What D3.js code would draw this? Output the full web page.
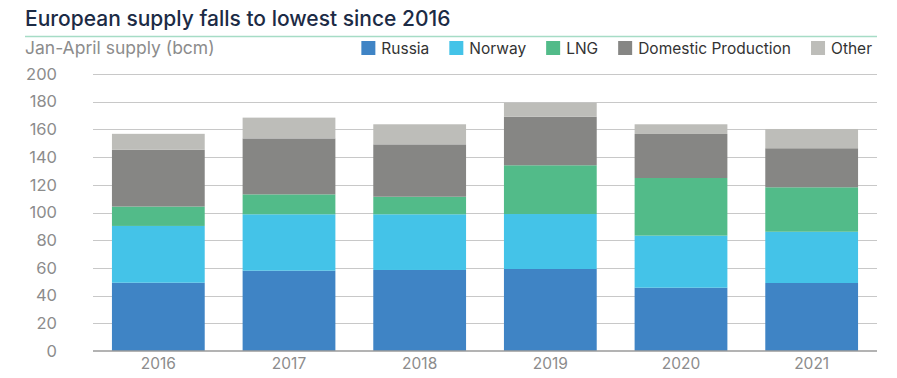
<!DOCTYPE html>
<html>
<head>
<meta charset="utf-8">
<script src="https://d3js.org/d3.v7.min.js"></script>
<style>
body{margin:0;background:#fff;font-family:Inter,'Open Sans',sans-serif}
svg text{font-family:Inter,'Open Sans',sans-serif}
</style>
</head>
<body>
<div id="chart"></div>
<script>
// Jan-April supply, bcm
var years = ["2016", "2017", "2018", "2019", "2020", "2021"];
var series = ["Russia", "Norway", "LNG", "Domestic Production", "Other"];
var russia   = [49.3, 58.0, 58.5, 59.2, 45.7, 49.1];
var norway   = [41.0, 40.7, 40.2, 39.7, 37.6, 37.0];
var lng      = [14.0, 14.4, 12.7, 35.2, 41.6, 32.1];
var domestic = [41.0, 40.4, 37.8, 35.1, 31.8, 28.2];
var other    = [11.5, 15.0, 14.5, 10.1, 7.0, 13.9];
var yTicks = [0, 20, 40, 60, 80, 100, 120, 140, 160, 180, 200];
var colors = ["#3f84c5", "#44c3e8", "#52bb89", "#868684", "#bdbdb9"];

var W = 897, H = 378;
var svg = d3.select("#chart").append("svg").attr("width", W).attr("height", H);

// rows for the stack
var rows = years.map(function(y, i) {
  return {year: y, "Russia": russia[i], "Norway": norway[i], "LNG": lng[i],
          "Domestic Production": domestic[i], "Other": other[i]};
});
var stacked = d3.stack().keys(series)(rows);

var x = d3.scaleBand().domain(years).range([93, 877]).paddingInner(0.29).paddingOuter(0.145);
var y = d3.scaleLinear().domain([0, 200]).range([351, 74]);
var color = d3.scaleOrdinal().domain(series).range(colors);

// title
svg.append("text").attr("x", 25).attr("y", 26)
  .attr("font-size", 21).attr("font-weight", 500).attr("fill", "#1c2b45")
  .text("European supply falls to lowest since 2016");
svg.append("line").attr("x1", 25).attr("x2", 877).attr("y1", 36.5).attr("y2", 36.5)
  .attr("stroke", "#a6dcc6").attr("stroke-width", 1.5);
svg.append("text").attr("x", 25).attr("y", 54)
  .attr("font-size", 17.5).attr("fill", "#8c8c8c")
  .text("Jan-April supply (bcm)");

// grid
svg.append("g").selectAll("line").data(yTicks.slice(1)).join("line")
  .attr("x1", 93).attr("x2", 877)
  .attr("y1", function(d) { return Math.round(y(d)) + 0.5; })
  .attr("y2", function(d) { return Math.round(y(d)) + 0.5; })
  .attr("stroke", "#c8c8c8").attr("stroke-width", 1);

// y axis labels
var yAxis = svg.append("g").attr("transform", "translate(57,0)")
  .call(d3.axisLeft(y).tickValues(yTicks).tickSize(0).tickPadding(0));
yAxis.select(".domain").remove();
yAxis.selectAll("text").attr("font-size", 16.5).attr("fill", "#8c8c8c")
  .attr("font-family", "Inter,'Open Sans',sans-serif");

// bars
svg.append("g").selectAll("g").data(stacked).join("g")
  .attr("fill", function(d) { return color(d.key); })
  .selectAll("rect").data(function(d) { return d; }).join("rect")
  .attr("x", function(d) { return x(d.data.year); })
  .attr("width", x.bandwidth())
  .attr("y", function(d) { return y(d[1]); })
  .attr("height", function(d) { return y(d[0]) - y(d[1]); });

// x axis
var xAxis = svg.append("g").attr("transform", "translate(0,351)")
  .call(d3.axisBottom(x).tickSize(0).tickPadding(7));
xAxis.select(".domain").attr("stroke", "#9a9a9a").attr("stroke-width", 1.5)
  .attr("d", "M93,0H877");
xAxis.selectAll("text").attr("font-size", 15.5).attr("fill", "#8c8c8c")
  .attr("font-family", "Inter,'Open Sans',sans-serif");

// legend, laid out right to left so it ends near the right edge
var legend = svg.append("g");
var items = legend.selectAll("g").data(series).join("g");
items.append("rect").attr("width", 14).attr("height", 14).attr("y", 41)
  .attr("fill", function(d) { return color(d); });
items.append("text").attr("x", 20).attr("y", 53.5)
  .attr("font-size", 15.5).attr("fill", "#333")
  .text(function(d) { return d; });
var pos = 872;
var nodes = items.nodes().reverse();
nodes.forEach(function(n) {
  var w = 20 + d3.select(n).select("text").node().getComputedTextLength();
  pos -= w;
  d3.select(n).attr("transform", "translate(" + pos + ",0)");
  pos -= 20;
});
</script>
</body>
</html>
